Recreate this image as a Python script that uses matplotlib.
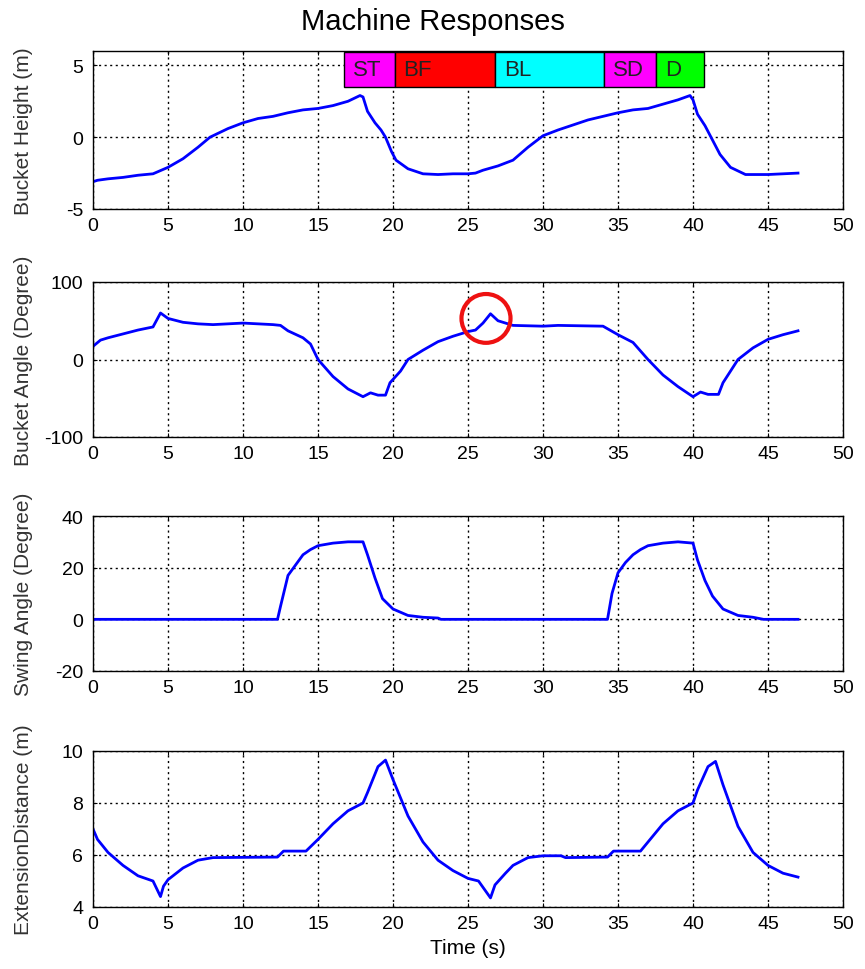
import numpy as np
import matplotlib
matplotlib.use("Agg")
import matplotlib.pyplot as plt
from matplotlib.patches import Rectangle, Ellipse

plt.rcParams['font.family'] = ['Liberation Sans', 'DejaVu Sans']
plt.rcParams['axes.unicode_minus'] = False

# ---- data ----
height_t = [0, 0.3, 1, 2, 3, 4, 5, 6, 7, 7.8, 9, 10, 11, 12, 13, 14, 15, 16, 17, 17.8, 18, 18.3, 18.8, 19.2, 19.5, 19.9, 20.2, 21, 22, 23, 24, 25, 25.5, 26, 27, 28, 29, 30, 31, 32, 33, 34, 35, 36, 37, 38, 39, 39.8, 40, 40.3, 40.8, 41.2, 41.8, 42.5, 43.5, 45, 46, 47]
height_v = [-3.1, -3.0, -2.9, -2.8, -2.65, -2.55, -2.1, -1.5, -0.7, 0.0, 0.6, 1.0, 1.3, 1.45, 1.7, 1.9, 2.0, 2.2, 2.5, 2.9, 2.8, 1.8, 1.0, 0.5, 0.0, -1.0, -1.6, -2.2, -2.55, -2.6, -2.55, -2.55, -2.5, -2.3, -2.0, -1.6, -0.7, 0.1, 0.5, 0.85, 1.2, 1.45, 1.7, 1.9, 2.0, 2.3, 2.6, 2.9, 2.6, 1.6, 0.8, 0.0, -1.2, -2.1, -2.6, -2.6, -2.55, -2.5]

angle_t = [0, 0.5, 1, 2, 3, 4, 4.5, 5, 6, 7, 8, 10, 12, 12.5, 13, 14, 14.5, 15, 16, 17, 18, 18.5, 19, 19.5, 19.8, 20.5, 21, 22, 23, 24, 25, 25.5, 26, 26.5, 27, 27.5, 28, 30, 31, 34, 35, 36, 37, 38, 39, 40, 40.5, 41, 41.7, 42, 43, 44, 45, 46, 47]
angle_v = [17, 25, 28, 33, 38, 42, 60, 53, 48, 46, 45, 47, 45, 44, 37, 28, 20, 0, -22, -38, -48, -43, -46, -46, -30, -15, 0, 12, 23, 30, 36, 38, 47, 59, 50, 47, 44, 43, 44, 43, 32, 22, 0, -20, -35, -48, -42, -45, -45, -30, 0, 15, 26, 32, 37]

swing_t = [0, 12.3, 12.5, 13, 13.5, 14, 14.5, 15, 16, 17, 18, 18.3, 18.8, 19.3, 20, 21, 22, 23, 23.2, 34.3, 34.6, 35, 35.5, 36, 36.5, 37, 38, 39, 40, 40.3, 40.8, 41.3, 42, 43, 44, 44.7, 47]
swing_v = [0, 0, 5, 17, 21, 25, 27, 28.5, 29.5, 30, 30, 25, 16, 8, 4, 1.5, 0.8, 0.5, 0, 0, 10, 18, 22, 25, 27, 28.5, 29.5, 30, 29.5, 23, 15, 9, 4, 1.5, 0.8, 0, 0]

ext_t = [0, 0.3, 1, 2, 3, 4, 4.5, 4.7, 5, 6, 7, 8, 12.3, 12.7, 13.5, 14.2, 15, 16, 17, 18, 18.3, 19, 19.5, 20, 21, 22, 23, 24, 25, 25.7, 26.5, 26.8, 27.5, 28, 29, 30, 31.2, 31.5, 34.3, 34.7, 36.5, 37, 38, 39, 40, 40.3, 41, 41.5, 42, 43, 44, 45, 46, 47]
ext_v = [7.0, 6.6, 6.1, 5.6, 5.2, 5.0, 4.4, 4.8, 5.05, 5.5, 5.8, 5.9, 5.92, 6.15, 6.15, 6.15, 6.6, 7.2, 7.7, 8.0, 8.4, 9.4, 9.65, 8.9, 7.5, 6.5, 5.8, 5.4, 5.1, 5.0, 4.35, 4.85, 5.3, 5.6, 5.9, 5.97, 5.97, 5.9, 5.92, 6.15, 6.15, 6.5, 7.2, 7.7, 8.0, 8.5, 9.4, 9.6, 8.7, 7.1, 6.1, 5.6, 5.3, 5.15]

phase_labels = ["ST", "BF", "BL", "SD", "D"]
phase_edges = [16.75, 20.1, 26.8, 34.05, 37.55, 40.75]
phase_colors = ["#FF00FF", "#FF0000", "#00FFFF", "#FF00FF", "#00FF00"]

panels = [
    (height_t, height_v, "Bucket Height (m)", (-5, 6), [-5, 0, 5]),
    (angle_t, angle_v, "Bucket Angle (Degree)", (-100, 100), [-100, 0, 100]),
    (swing_t, swing_v, "Swing Angle (Degree)", (-20, 40), [-20, 0, 20, 40]),
    (ext_t, ext_v, "ExtensionDistance (m)", (4, 10), [4, 6, 8, 10]),
]

fig = plt.figure(figsize=(8.65, 9.7), dpi=100)
W, H = 865, 970
boxes = [(52, 210), (283, 438), (517, 672), (752, 908)]
left, right = 93, 843
axes = []
for (top, bot), (t, v, lab, ylim, yt) in zip(boxes, panels):
    ax = fig.add_axes([left / W, 1 - bot / H, (right - left) / W, (bot - top) / H])
    ax.plot(t, v, color="#0000FF", lw=2)
    ax.set_xlim(0, 50)
    ax.set_ylim(*ylim)
    ax.set_xticks(range(0, 51, 5))
    ax.set_yticks(yt)
    ax.grid(True, color="black", linestyle=(0, (1.5, 2.5)), lw=1)
    ax.tick_params(direction="in", top=True, right=True, labelsize=14, length=3)
    ax.tick_params(axis="x", pad=6)
    ax.tick_params(axis="y", pad=7)
    ax.set_ylabel(lab, fontsize=15, color="#333333")
    ax.yaxis.set_label_coords(-0.08, 0.5)
    for s in ax.spines.values():
        s.set_linewidth(1)
    axes.append(ax)

# phase boxes
ax0 = axes[0]
for i, (lab, c) in enumerate(zip(phase_labels, phase_colors)):
    x0, x1 = phase_edges[i], phase_edges[i + 1]
    ax0.add_patch(Rectangle((x0, 3.5), x1 - x0, 2.45, facecolor=c, edgecolor="black", lw=1, zorder=5))
    ax0.text(x0 + 0.6, 4.7, lab, fontsize=16, va="center", ha="left", color="#222222", zorder=6)

# red circle
axes[1].add_patch(Ellipse((26.2, 53), 3.27, 63, fill=False, edgecolor="#EE1111", lw=3, zorder=6))

fig.suptitle("Machine Responses", fontsize=21, y=1 - 22 / H, va="center")
axes[3].set_xlabel("Time (s)", fontsize=15)

fig.savefig("out.png", dpi=100)
